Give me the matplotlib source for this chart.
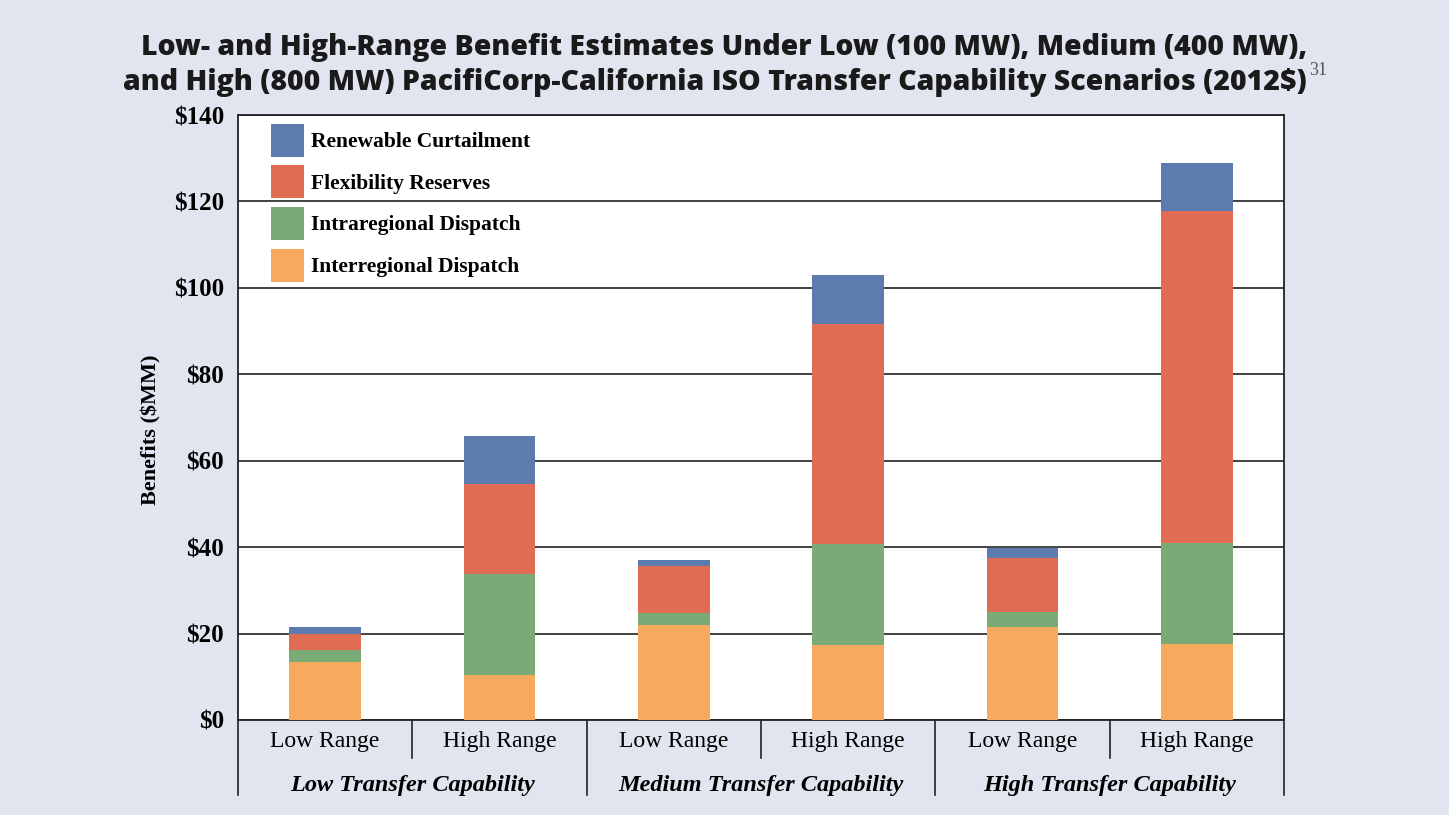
import numpy as np
import matplotlib.pyplot as plt
from matplotlib.patches import Patch
from matplotlib.transforms import blended_transform_factory

# stacked segments, bottom to top, $MM (2012$)
range_labels = ["Low Range", "High Range"] * 3
group_labels = ["Low Transfer Capability", "Medium Transfer Capability", "High Transfer Capability"]
interregional = [13.4, 10.4, 21.9, 17.3, 21.5, 17.5]
intraregional = [2.8, 23.4, 2.8, 23.4, 3.4, 23.4]
flexibility = [3.7, 20.9, 10.9, 51.0, 12.6, 76.8]
renewable = [1.6, 11.1, 1.5, 11.3, 2.2, 11.3]

series = [
    ("Interregional Dispatch", interregional, "#F7A95E"),
    ("Intraregional Dispatch", intraregional, "#7AAB76"),
    ("Flexibility Reserves", flexibility, "#DF6C53"),
    ("Renewable Curtailment", renewable, "#5E7BB0"),
]

bg = "#E1E5F0"
serif = "Liberation Serif"

fig = plt.figure(figsize=(14.49, 8.15), dpi=100, facecolor=bg)
ax = fig.add_axes([238 / 1449, 95 / 815, 1046 / 1449, 605 / 815])
ax.set_facecolor("white")

x = np.arange(len(range_labels))
bottom = np.zeros(len(x))
handles = []
for name, vals, color in series:
    ax.bar(x, vals, 0.41, bottom=bottom, color=color, zorder=3)
    bottom += np.array(vals)
    handles.append(Patch(facecolor=color, label=name))

ax.set_xlim(-0.5, 5.5)
ax.set_ylim(0, 140)
yt = np.arange(0, 141, 20)
ax.set_yticks(yt)
ax.set_yticklabels([f"${v}" for v in yt], fontfamily=serif, fontweight="bold", fontsize=18)
ax.tick_params(axis="y", length=0, pad=10)
ax.grid(axis="y", color="#333333", linewidth=1.3, zorder=1)
for s in ax.spines.values():
    s.set_color("#222222")
    s.set_linewidth(1.3)

ax.set_ylabel("Benefits ($MM)", fontfamily=serif, fontweight="bold", fontsize=16)
ax.yaxis.set_label_coords(-0.073, 0.479)

# category axis
ax.set_xticks(x)
ax.set_xticklabels(range_labels, fontfamily=serif, fontsize=17)
ax.tick_params(axis="x", length=0, pad=8)
tr = blended_transform_factory(ax.transData, ax.transAxes)
for i, g in enumerate(group_labels):
    ax.text(2 * i + 0.5, -0.109, g, transform=tr, ha="center", va="center",
            fontfamily=serif, fontweight="bold", fontstyle="italic", fontsize=17.5)
for b in np.arange(-0.5, 6, 1.0):
    depth = -0.124 if (b + 0.5) % 2 == 0 else -0.062
    ax.plot([b, b], [0, depth], transform=tr, color="#222222", linewidth=1.2, clip_on=False)

leg = ax.legend(handles=handles[::-1], loc="upper left", bbox_to_anchor=(0.0233, 1.0),
                borderaxespad=0, frameon=False, handlelength=1.535, handleheight=1.985,
                labelspacing=0.4, handletextpad=0.33,
                prop={"family": serif, "weight": "bold", "size": 15.5})

title_kw = dict(va="center", fontfamily="Open Sans", fontweight=800,
                fontsize=20.4, color="#1a1a1a")
fig.text(0.5, 0.942, "Low- and High-Range Benefit Estimates Under Low (100 MW), Medium (400 MW),",
         ha="center", **title_kw)
fig.text(1307 / 1449, 0.899, "and High (800 MW) PacifiCorp-California ISO Transfer Capability Scenarios (2012$)",
         ha="right", **title_kw)
fig.text(1309 / 1449, 0.913, "31", ha="left", va="center", fontfamily=serif, fontsize=13, color="#555555")

fig.savefig("out.png", dpi=100, facecolor=bg)
